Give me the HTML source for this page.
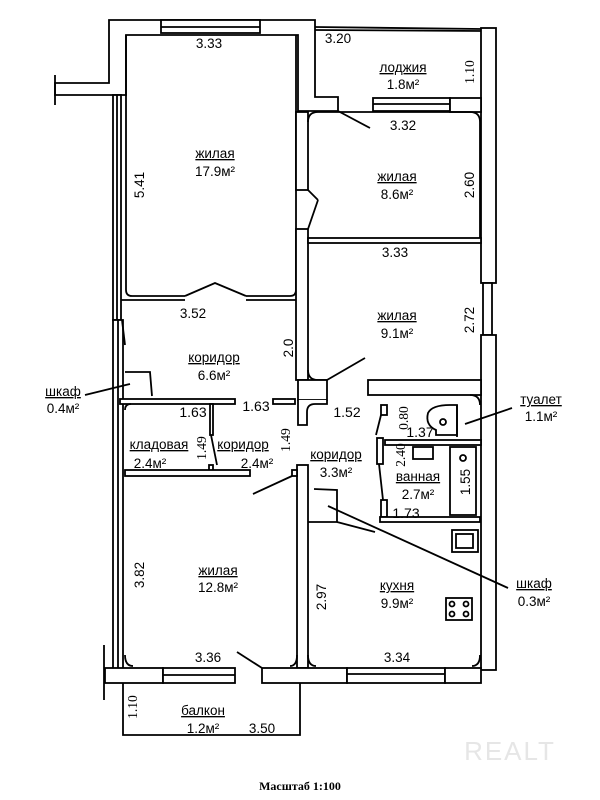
<!DOCTYPE html>
<html><head><meta charset="utf-8"><style>
html,body{margin:0;padding:0;background:#fff}
svg{display:block}
text{font-family:"Liberation Sans",sans-serif;fill:#000}
</style></head><body>
<svg width="600" height="800" viewBox="0 0 600 800" xmlns="http://www.w3.org/2000/svg">
<g fill="#fff" stroke="#000" stroke-width="1.8">
<path d="M109 20 H315 V97 H338 V111 H298 V35 H126 V95 H55 V83 H109 Z"/>
<rect x="161" y="20" width="99" height="13"/>
<line x1="161" y1="27" x2="260" y2="27"/>
<line x1="55" y1="75" x2="55" y2="105"/>
<line x1="315" y1="27" x2="482" y2="29"/>
<line x1="315" y1="30" x2="482" y2="31"/>
<rect x="481" y="28" width="15" height="255"/>
<rect x="483" y="283" width="9" height="52"/>
<rect x="481" y="335" width="15" height="335"/>
<rect x="373" y="98" width="77" height="13"/>
<line x1="373" y1="104" x2="450" y2="104"/>
<rect x="450" y="98" width="31" height="14"/>
<rect x="113" y="95" width="8" height="225"/>
<line x1="117" y1="95" x2="117" y2="320"/>
<path d="M126 35 V290 Q126 296 132 296 H185" fill="none"/>
<path d="M246 296 H290 Q296 296 296 290 V35" fill="none"/>
<line x1="121" y1="300" x2="185" y2="300"/>
<line x1="246" y1="300" x2="296" y2="300"/>
<path d="M185 296 L215 283 L246 296" fill="none"/>
<rect x="296" y="112" width="12" height="78"/>
<rect x="296" y="229" width="12" height="151"/>
<line x1="308" y1="190" x2="318" y2="200"/>
<path d="M308 229 L318 200" fill="none"/>
<path d="M308 122 Q308 112 318 112 H470 Q480 112 480 122 V238" fill="none"/>
<rect x="308" y="238" width="173" height="5"/>
<line x1="338" y1="111" x2="370" y2="128"/>
<path d="M308 370 Q308 380 318 380 H327" fill="none"/>
<rect x="368" y="380" width="113" height="15"/>
<rect x="298" y="380" width="29" height="20"/>
<path d="M298 400 V425 H307 V412 Q307 404 315 404 H327 V400" />
<line x1="327" y1="380" x2="365" y2="358"/>
<rect x="113" y="320" width="10" height="350"/>
<line x1="118" y1="320" x2="118" y2="670"/>
<line x1="122" y1="320" x2="125" y2="345"/>
<path d="M125 372 H150 L152 396" fill="none"/>
<rect x="120" y="399" width="115" height="5"/>
<rect x="273" y="399" width="22" height="5"/>
<path d="M125 410 Q125 404 131 404" fill="none"/>
<rect x="210" y="404" width="3" height="31"/>
<rect x="209" y="465" width="4" height="6"/>
<line x1="211" y1="435" x2="217" y2="465"/>
<rect x="125" y="470" width="125" height="6"/>
<rect x="297" y="465" width="11" height="203"/>
<rect x="292" y="470" width="5" height="6"/>
<line x1="292" y1="476" x2="253" y2="494"/>
<path d="M314 489 L337 490 V522 H308" fill="none"/>
<line x1="337" y1="522" x2="375" y2="532"/>
<rect x="381" y="405" width="6" height="10"/>
<line x1="381" y1="415" x2="376" y2="435"/>
<rect x="385" y="440" width="96" height="5"/>
<rect x="377" y="438" width="6" height="26"/>
<path d="M379 464 L383 500" fill="none"/>
<rect x="381" y="500" width="6" height="17"/>
<rect x="380" y="517" width="100" height="5"/>
<rect x="450" y="447" width="26" height="68"/>
<circle cx="463" cy="458" r="3"/>
<rect x="413" y="447" width="20" height="12"/>
<path d="M436 430 Q425 425 428 413 Q432 405 450 405 H457 V435 H436 Z"/>
<circle cx="443" cy="422" r="3"/>
<line x1="457" y1="405" x2="457" y2="437"/>
<path d="M470 395 Q480 395 480 405" fill="none"/>
<rect x="452" y="530" width="26" height="22"/>
<rect x="456" y="534" width="17" height="14"/>
<rect x="446" y="598" width="26" height="22"/>
<circle cx="452" cy="604" r="2.5"/><circle cx="466" cy="604" r="2.5"/>
<circle cx="452" cy="614" r="2.5"/><circle cx="466" cy="614" r="2.5"/>
<path d="M125 655 Q125 666 133 666" fill="none"/>
<path d="M297 655 Q297 666 290 666" fill="none"/>
<path d="M308 655 Q308 666 316 666" fill="none"/>
<path d="M480 655 Q480 666 472 666" fill="none"/>
<rect x="105" y="668" width="58" height="15"/>
<line x1="104" y1="645" x2="104" y2="700"/>
<rect x="163" y="668" width="72" height="15"/>
<line x1="163" y1="675" x2="235" y2="675"/>
<rect x="262" y="668" width="85" height="15"/>
<rect x="347" y="668" width="98" height="15"/>
<line x1="347" y1="674" x2="445" y2="674"/>
<rect x="445" y="668" width="36" height="15"/>
<line x1="262" y1="668" x2="237" y2="652"/>
<path d="M123 683 V735 H300 V683" fill="none"/>
<line x1="85" y1="395" x2="130" y2="384"/>
<line x1="465" y1="424" x2="512" y2="408"/>
<line x1="328" y1="506" x2="508" y2="588"/>
</g>
<g font-size="13.5" text-anchor="middle">
<text x="209" y="48">3.33</text>
<text x="338" y="43">3.20</text>
<text x="403" y="72" text-decoration="underline">лоджия</text>
<text x="403" y="89">1.8м²</text>
<text x="403" y="130">3.32</text>
<text x="215" y="158" text-decoration="underline">жилая</text>
<text x="215" y="176">17.9м²</text>
<text x="397" y="181" text-decoration="underline">жилая</text>
<text x="397" y="199">8.6м²</text>
<text x="395" y="257">3.33</text>
<text x="193" y="318">3.52</text>
<text x="397" y="320" text-decoration="underline">жилая</text>
<text x="397" y="338">9.1м²</text>
<text x="214" y="362" text-decoration="underline">коридор</text>
<text x="214" y="380">6.6м²</text>
<text x="63" y="396" text-decoration="underline">шкаф</text>
<text x="63" y="413">0.4м²</text>
<text x="159" y="449" text-decoration="underline">кладовая</text>
<text x="150" y="468">2.4м²</text>
<text x="243" y="449" text-decoration="underline">коридор</text>
<text x="257" y="468">2.4м²</text>
<text x="336" y="459" text-decoration="underline">коридор</text>
<text x="336" y="477">3.3м²</text>
<text x="418" y="481" text-decoration="underline">ванная</text>
<text x="418" y="499">2.7м²</text>
<text x="541" y="404" text-decoration="underline">туалет</text>
<text x="541" y="421">1.1м²</text>
<text x="218" y="575" text-decoration="underline">жилая</text>
<text x="218" y="592">12.8м²</text>
<text x="397" y="590" text-decoration="underline">кухня</text>
<text x="397" y="608">9.9м²</text>
<text x="534" y="588" text-decoration="underline">шкаф</text>
<text x="534" y="606">0.3м²</text>
<text x="208" y="662">3.36</text>
<text x="397" y="662">3.34</text>
<text x="203" y="715" text-decoration="underline">балкон</text>
<text x="203" y="733">1.2м²</text>
<text x="262" y="733">3.50</text>
</g>
<g font-size="13.5" text-anchor="middle">
<text transform="translate(144 185) rotate(-90)">5.41</text>
<text transform="translate(474 185) rotate(-90)">2.60</text>
<text transform="translate(474 72) rotate(-90)" style="font-family:'Liberation Serif',serif">1.10</text>
<text transform="translate(474 320) rotate(-90)">2.72</text>
<text transform="translate(293 348) rotate(-90)">2.0</text>
<text transform="translate(144 575) rotate(-90)">3.82</text>
<text transform="translate(326 597) rotate(-90)">2.97</text>
<text transform="translate(137 707) rotate(-90)" style="font-family:'Liberation Serif',serif">1.10</text>
<text transform="translate(470 482) rotate(-90)">1.55</text>
<text transform="translate(206 448) rotate(-90)" style="font-family:'Liberation Serif',serif">1.49</text>
<text transform="translate(290 440) rotate(-90)" style="font-family:'Liberation Serif',serif">1.49</text>
<text transform="translate(405 455) rotate(-90)" style="font-family:'Liberation Serif',serif">2.40</text>
<text transform="translate(408 418) rotate(-90)" style="font-family:'Liberation Serif',serif">0.80</text>
</g>
<g font-size="14" text-anchor="middle" style="font-family:'Liberation Serif',serif">
<text x="193" y="417">1.63</text>
<text x="256" y="411">1.63</text>
<text x="347" y="417">1.52</text>
<text x="420" y="437">1.37</text>
<text x="406" y="518">1.73</text>
</g>
<text x="300" y="790" font-size="12" text-anchor="middle" style="font-family:'Liberation Serif',serif;font-weight:bold">Масштаб 1:100</text>
<text x="510" y="760" font-size="26" text-anchor="middle" style="fill:#e6e6e6;letter-spacing:2px">REALT</text>
</svg>
</body></html>
